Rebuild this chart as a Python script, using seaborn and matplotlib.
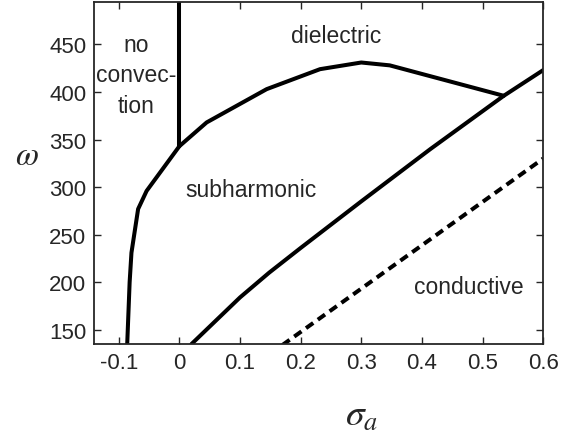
import matplotlib
matplotlib.use("Agg")
import matplotlib.pyplot as plt
import seaborn as sns
import pandas as pd

# Phase boundaries in the (sigma_a, omega) plane
left_sigma = [-0.086, -0.082, -0.079, -0.068, -0.054, 0.0]
left_omega = [135, 200, 231, 277, 296, 343]

vert_sigma = [0.0, 0.0]
vert_omega = [343, 500]

upper_sigma = [0.0, 0.045, 0.144, 0.232, 0.300, 0.347, 0.535]
upper_omega = [343, 368, 403, 424, 431, 428, 396]

diag_sigma = [0.020, 0.100, 0.148, 0.200, 0.300, 0.414, 0.535, 0.600]
diag_omega = [135, 184, 210, 236, 285, 340, 396, 423]

cond_sigma = [0.170, 0.600]
cond_omega = [134, 330]

x_ticks = [-0.1, 0, 0.1, 0.2, 0.3, 0.4, 0.5, 0.6]
x_ticklabels = ["-0.1", "0", "0.1", "0.2", "0.3", "0.4", "0.5", "0.6"]
y_ticks = [150, 200, 250, 300, 350, 400, 450]

sns.set_style("ticks")
plt.rcParams["font.family"] = ["Liberation Sans", "DejaVu Sans"]
plt.rcParams["mathtext.fontset"] = "stix"

fig = plt.figure(figsize=(5.76, 4.39), dpi=100)
ax = fig.add_axes([0.164, 0.214, 0.779, 0.780])

lw = 2.9
for xs, ys in [(left_sigma, left_omega), (vert_sigma, vert_omega),
               (upper_sigma, upper_omega), (diag_sigma, diag_omega)]:
    df = pd.DataFrame({"sigma": xs, "omega": ys})
    sns.lineplot(data=df, x="sigma", y="omega", sort=False, color="black",
                 lw=lw, ax=ax, estimator=None)

df_c = pd.DataFrame({"sigma": cond_sigma, "omega": cond_omega})
sns.lineplot(data=df_c, x="sigma", y="omega", sort=False, color="black",
             lw=lw, ax=ax, estimator=None, dashes=False)
ax.lines[-1].set_dashes((2.2, 1.4))

ax.set_xlim(-0.14, 0.6)
ax.set_ylim(135, 495)
ax.set_xticks(x_ticks)
ax.set_xticklabels(x_ticklabels)
ax.set_yticks(y_ticks)
ax.tick_params(direction="in", length=5, width=1, labelsize=16,
               top=True, right=True, pad=6)
for s in ax.spines.values():
    s.set_linewidth(1.3)
ax.set_xlabel("")
ax.set_ylabel("")

txt = dict(fontsize=16.5, ha="center", va="center")
ax.text(-0.072, 450, "no", **txt)
ax.text(-0.072, 418, "convec-", **txt)
ax.text(-0.072, 386, "tion", **txt)
ax.text(0.259, 459, "dielectric", **txt)
ax.text(0.118, 298, "subharmonic", **txt)
ax.text(0.477, 195, "conductive", **txt)

fig.text(27 / 576, 1 - 157 / 439, r"$\omega$", fontsize=24,
         ha="center", va="center")
fig.text(362 / 576, 1 - 416 / 439, r"$\sigma_a$", fontsize=27,
         ha="center", va="center")

fig.savefig("out.png", dpi=100)
